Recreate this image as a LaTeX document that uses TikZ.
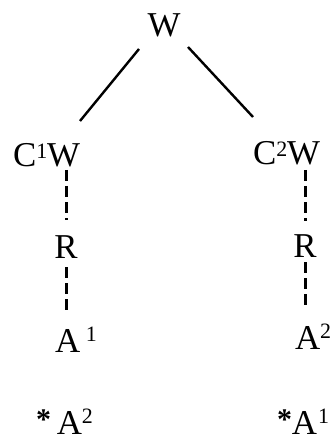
\documentclass[tikz,border=0pt]{standalone}
\usepackage{fontspec}
\setmainfont{Liberation Serif}
\usetikzlibrary{calc}
\newcommand\supx[2][9pt]{\raisebox{#1}{\fontsize{22}{22}\selectfont #2}}
\newcommand\starmark{\raisebox{5pt}{\fontsize{30}{30}\selectfont\bfseries *}}
\begin{document}
\begin{tikzpicture}[x=1bp,y=-1bp,
  lbl/.style={inner sep=0pt,outer sep=0pt,font=\fontsize{35}{35}\selectfont},
  solidline/.style={line width=2.4bp},
  dashline/.style={line width=3bp,dash pattern=on 11bp off 5bp}]
\fill[white] (0,0) rectangle (332,443);
\useasboundingbox (0,0) rectangle (332,443);
\node[lbl,anchor=base] (w) at (164,37) {W};
\node[lbl,anchor=base west] (c1w) at (13,167) {C\supx{1}W};
\node[lbl,anchor=base west] (c2w) at (253,165) {C\supx{2}W};
\node[lbl,anchor=base] (r1) at (66,258) {R};
\node[lbl,anchor=base] (r2) at (305,257) {R};
\node[lbl,anchor=base west] (a1) at (55,352) {A\,\supx[11pt]{1}};
\node[lbl,anchor=base west] (a2) at (295,349) {A\supx[11pt]{2}};
\node[lbl,anchor=base west] (x2) at (36,434) {\starmark\,A\supx[11pt]{2}};
\node[lbl,anchor=base west] (x1) at (277,434) {\starmark A\kern1pt\supx[11pt]{1}};
\draw[solidline] ($(w.base)+(-25,12)$) -- ($(c1w.base west)+(67,-46)$);
\draw[solidline] ($(w.base)+(24,10)$) -- ($(c2w.base west)+(0,-48)$);
\draw[dashline] ($(c1w.base west -| r1.base)+(0,3)$) -- ($(r1.base)+(0,-38)$);
\draw[dashline] ($(r1.base)+(0,9)$) -- ($(a1.base west -| r1.base)+(0,-37)$);
\draw[dashline] ($(c2w.base west -| r2.base)+(0,5)$) -- ($(r2.base)+(0,-36)$);
\draw[dashline] ($(r2.base)+(0,5)$) -- ($(a2.base west -| r2.base)+(0,-39)$);
\end{tikzpicture}
\end{document}
